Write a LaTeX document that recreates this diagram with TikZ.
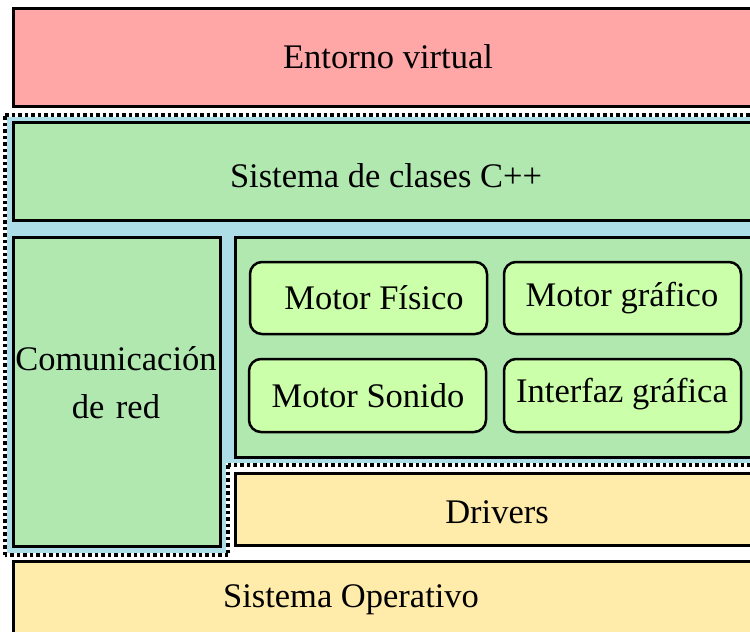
\documentclass[tikz,border=0pt]{standalone}
\usepackage{fontspec}
\setmainfont{Liberation Serif}
\definecolor{pinkbox}{RGB}{255,166,166}
\definecolor{greenbox}{RGB}{176,232,176}
\definecolor{lightgreen}{RGB}{204,255,170}
\definecolor{yellowbox}{RGB}{255,236,170}
\definecolor{bluebg}{RGB}{173,221,230}
\tikzset{
  layer/.style={draw=black, line width=3pt},
  engine/.style={draw=black, line width=2.5pt, fill=lightgreen, rounded corners=12pt},
  lbl/.style={font=\fontsize{34.5}{40}\selectfont, align=center, inner sep=0pt},
  dotborder/.style={black, line width=3.5pt, dash pattern=on 3.5pt off 3pt}
}
\begin{document}
\begin{tikzpicture}[x=1pt,y=-1pt]
\useasboundingbox (0,0) rectangle (750,632);
\clip (0,0) rectangle (750,632);
\fill[white] (0,0) rectangle (750,632);
% blue dotted region
\coordinate (d1) at (5,115);
\coordinate (d2) at (770,115);
\coordinate (d3) at (770,465);
\coordinate (d4) at (228,465);
\coordinate (d5) at (228,555);
\coordinate (d6) at (5,555);
\fill[bluebg] (d1) -- (d2) -- (d3) -- (d4) -- (d5) -- (d6) -- cycle;
\draw[white, line width=3.5pt] (d1) -- (d2) (d3) -- (d4) -- (d5) -- (d6) -- (d1);
\draw[dotborder] (d1) -- (d2);
\draw[dotborder] (d3) -- (d4);
\draw[dotborder] (d4) -- (d5);
\draw[dotborder] (d5) -- (d6);
\draw[dotborder] (d6) -- (d1);
% layers
\draw[layer, fill=pinkbox] (13,8) rectangle (763,106);
\node[lbl] (entorno) at (388,57) {Entorno virtual};
\draw[layer, fill=greenbox] (13,122) rectangle (763,220);
\node[lbl] (clases) at (386,176) {Sistema de clases C++};
\draw[layer, fill=greenbox] (13,237) rectangle (220,546);
\node[lbl, text width=210pt] (red) at (116,383) {Comunicación\\[8pt]de red};
\draw[layer, fill=greenbox] (235,237) rectangle (763,457);
\draw[engine] (250,262) rectangle (487,334);
\node[lbl] (fisico) at (374,298) {Motor Físico};
\draw[engine] (504,262) rectangle (741,334);
\node[lbl] (grafico) at (622,298) {Motor gráfico};
\draw[engine] (249,359) rectangle (486,432);
\node[lbl] (sonido) at (368,396) {Motor Sonido};
\draw[engine] (504,359) rectangle (741,432);
\node[lbl] (interfaz) at (622,394) {Interfaz gráfica};
\draw[layer, fill=yellowbox] (235,473) rectangle (763,545);
\node[lbl] (drivers) at (497,512) {Drivers};
\draw[layer, fill=yellowbox] (13,561) rectangle (763,650);
\node[lbl] (so) at (351,600) {Sistema Operativo};
\end{tikzpicture}
\end{document}
